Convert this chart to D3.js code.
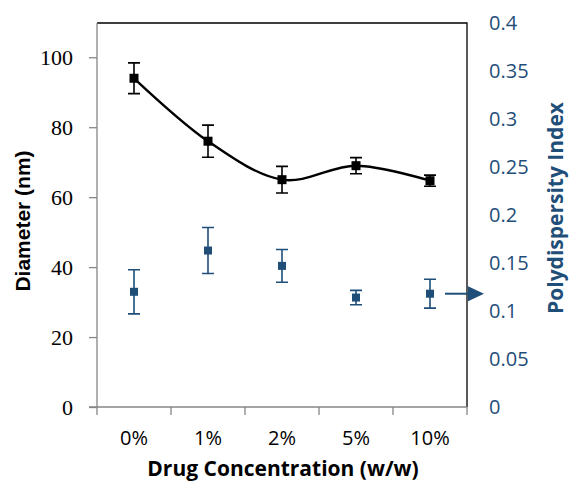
<!DOCTYPE html>
<html>
<head>
<meta charset="utf-8">
<script src="https://cdn.jsdelivr.net/npm/d3@7"></script>
<style>
  body { margin: 0; background: #fff; }
  svg { display: block; }
</style>
</head>
<body>
<div id="chart"></div>
<script>
const CATEGORIES = ['0%', '1%', '2%', '5%', '10%'];
const DIAMETER = [94, 76, 65, 69, 64.7];
const DIAMETER_ERR = [4.4, 4.6, 3.8, 2.3, 1.6];
const PDI = [0.120, 0.163, 0.147, 0.114, 0.118];
const PDI_ERR = [0.023, 0.024, 0.017, 0.0075, 0.015];
const LEFT_TICKS = [0, 20, 40, 60, 80, 100];
const RIGHT_TICKS = [0, 0.05, 0.1, 0.15, 0.2, 0.25, 0.3, 0.35, 0.4];
const RIGHT_TICK_LABELS = ['0', '0.05', '0.1', '0.15', '0.2', '0.25', '0.3', '0.35', '0.4'];

const BLUE = '#1F4E79';
const GREY = '#868686';

const w = 569, h = 482;
const pLeft = 97, pRight = 467, pTop = 23, pBottom = 407;

const svg = d3.select('#chart').append('svg')
  .attr('width', w).attr('height', h);

const x = d3.scaleBand().domain(CATEGORIES).range([pLeft, pRight]);
const yL = d3.scaleLinear().domain([0, 110]).range([pBottom, pTop - 0.7]);
const yR = d3.scaleLinear().domain([0, 0.4]).range([pBottom, pTop]);
const cx = c => x(c) + x.bandwidth() / 2;

// plot frame (top + right are black)
svg.append('path')
  .attr('d', `M${pLeft},${pTop}H${pRight}V${pBottom}`)
  .attr('fill', 'none').attr('stroke', '#000').attr('stroke-width', 1.3);

// left axis
const gL = svg.append('g').attr('transform', `translate(${pLeft},0)`)
  .call(d3.axisLeft(yL).tickValues(LEFT_TICKS).tickSize(8).tickPadding(16).tickSizeOuter(0));
gL.select('.domain').attr('stroke', GREY).attr('stroke-width', 1.3)
  .attr('d', `M0,${pBottom}V${pTop}`);
gL.selectAll('.tick line').attr('stroke', GREY).attr('stroke-width', 1.3);
gL.selectAll('.tick text')
  .attr('font-family', '"Liberation Serif", serif')
  .attr('font-size', '22px').attr('fill', '#000');

// bottom axis
const gB = svg.append('g').attr('transform', `translate(0,${pBottom})`)
  .call(d3.axisBottom(x).tickSize(0).tickPadding(24));
gB.select('.domain').attr('stroke', GREY).attr('stroke-width', 1.3)
  .attr('d', `M${pLeft - 8},0H${pRight}`);
gB.selectAll('.tick text')
  .attr('font-family', '"Open Sans", sans-serif')
  .attr('font-size', '20px').attr('fill', '#000');
gB.selectAll('.boundary')
  .data([...CATEGORIES.map(c => x(c)), x.range()[1]])
  .join('line')
  .attr('class', 'boundary')
  .attr('x1', d => d).attr('x2', d => d)
  .attr('y1', 0).attr('y2', 8)
  .attr('stroke', GREY).attr('stroke-width', 1.3);

// right axis
const gR = svg.append('g').attr('transform', `translate(${pRight},0)`)
  .call(d3.axisRight(yR).tickValues(RIGHT_TICKS)
    .tickFormat((d, i) => RIGHT_TICK_LABELS[i]).tickSize(0).tickPadding(22));
gR.select('.domain').remove();
gR.selectAll('.tick text')
  .attr('font-family', '"Open Sans", sans-serif')
  .attr('font-size', '20px').attr('fill', BLUE);

// diameter series
const dia = CATEGORIES.map((c, i) => ({ c, v: DIAMETER[i], e: DIAMETER_ERR[i] }));
const line = d3.line().x(d => cx(d.c)).y(d => yL(d.v)).curve(d3.curveCardinal.tension(0));
svg.append('path').datum(dia)
  .attr('d', line).attr('fill', 'none')
  .attr('stroke', '#000').attr('stroke-width', 2.4);

const errBars = (data, scale, color, cls) => {
  const g = svg.append('g').attr('class', cls)
    .attr('stroke', color).attr('stroke-width', 1.6).attr('fill', 'none');
  g.selectAll('path').data(data).join('path')
    .attr('d', d => {
      const xc = cx(d.c), y1 = scale(d.v + d.e), y2 = scale(d.v - d.e);
      return `M${xc - 6},${y1}H${xc + 6}M${xc},${y1}V${y2}M${xc - 6},${y2}H${xc + 6}`;
    });
};
errBars(dia, yL, '#000', 'dia-err');

svg.append('g').selectAll('rect').data(dia).join('rect')
  .attr('x', d => cx(d.c) - 4.5).attr('y', d => yL(d.v) - 4.5)
  .attr('width', 9).attr('height', 9).attr('fill', '#000');

// PDI series
const pdi = CATEGORIES.map((c, i) => ({ c, v: PDI[i], e: PDI_ERR[i] }));
errBars(pdi, yR, BLUE, 'pdi-err');
svg.append('g').selectAll('rect').data(pdi).join('rect')
  .attr('x', d => cx(d.c) - 4).attr('y', d => yR(d.v) - 4)
  .attr('width', 8).attr('height', 8).attr('fill', BLUE);

// arrow pointing to the PDI axis
const last = pdi[pdi.length - 1];
const ay = yR(last.v), ax0 = cx(last.c) + 15;
svg.append('line')
  .attr('x1', ax0).attr('x2', pRight + 2).attr('y1', ay).attr('y2', ay)
  .attr('stroke', BLUE).attr('stroke-width', 2);
svg.append('path')
  .attr('d', `M${pRight + 1},${ay - 7.5}L${pRight + 17},${ay}L${pRight + 1},${ay + 7.5}Z`)
  .attr('fill', BLUE);

// axis titles
svg.append('text')
  .attr('transform', `translate(30,221) rotate(-90)`)
  .attr('text-anchor', 'middle')
  .attr('font-family', '"Liberation Sans", Arial, sans-serif')
  .attr('font-weight', 'bold').attr('font-size', '21px')
  .text('Diameter (nm)');

svg.append('text')
  .attr('transform', `translate(563,208) rotate(-90)`)
  .attr('text-anchor', 'middle')
  .attr('font-family', '"Open Sans", sans-serif')
  .attr('font-weight', 'bold').attr('font-size', '21px')
  .attr('fill', BLUE)
  .text('Polydispersity Index');

svg.append('text')
  .attr('x', 283).attr('y', 476)
  .attr('text-anchor', 'middle')
  .attr('font-family', '"Open Sans", sans-serif')
  .attr('font-weight', 'bold').attr('font-size', '21px')
  .text('Drug Concentration (w/w)');
</script>
</body>
</html>
